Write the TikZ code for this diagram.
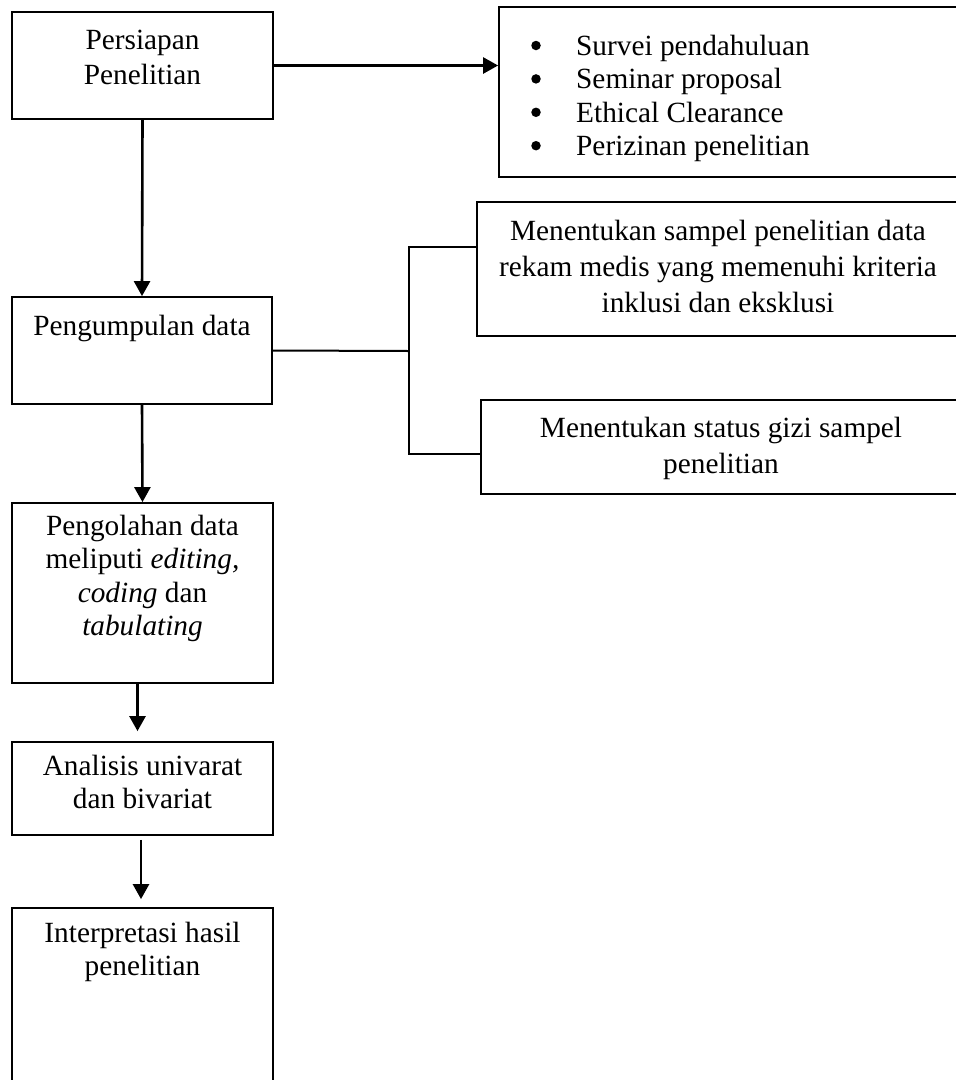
\documentclass[tikz,border=0pt]{standalone}
\usepackage{fontspec}
\setmainfont{Liberation Serif}
\usetikzlibrary{arrows.meta}
\begin{document}
\begin{tikzpicture}[x=1pt,y=-1pt,
  box/.style={draw, line width=1.8pt, rectangle, inner sep=0pt},
  txt/.style={inner sep=0pt, anchor=north, align=center, font=\fontsize{29.3}{34}\selectfont},
  dot/.style={circle, fill, inner sep=0pt, minimum size=9.5pt},
  conn/.style={line width=2pt},
  arr/.style={line width=2.6pt, -{Triangle[length=15pt,width=16pt]}}]
\useasboundingbox (0,0) rectangle (956,1080);
% boxes
\node[box, minimum width=261pt, minimum height=107pt] (b1) at (142.5,65.5) {};
\node[box, minimum width=460pt, minimum height=170pt] (b2) at (729,92) {};
\node[box, minimum width=482pt, minimum height=134pt] (b3) at (718,269) {};
\node[box, minimum width=478pt, minimum height=94pt] (b4) at (720,447) {};
\node[box, minimum width=260pt, minimum height=107pt] (b5) at (142,350.5) {};
\node[box, minimum width=261pt, minimum height=180pt] (b6) at (142.5,593) {};
\node[box, minimum width=261pt, minimum height=93pt] (b7) at (142.5,788.5) {};
\node[box, minimum width=261pt, minimum height=175pt] (b8) at (142.5,995.5) {};
% texts
\node[txt, font=\fontsize{29.3}{35}\selectfont] (t1) at (142.5,30) {Persiapan\\Penelitian};
\node[txt, anchor=north west, align=left, font=\fontsize{29.3}{33.4}\selectfont] (t2) at (576,35)
  {Survei pendahuluan\\Seminar proposal\\Ethical Clearance\\Perizinan penelitian};
\node[dot] (d1) at (536,45.5) {};
\node[dot] (d2) at (536,78.9) {};
\node[dot] (d3) at (536,112.3) {};
\node[dot] (d4) at (536,145.7) {};
\node[txt, font=\fontsize{29.3}{36}\selectfont] (t3) at (718,220) {Menentukan sampel penelitian data\\rekam medis yang memenuhi kriteria\\inklusi dan eksklusi};
\node[txt, font=\fontsize{29.3}{36}\selectfont] (t4) at (721,417) {Menentukan status gizi sampel\\penelitian};
\node[txt] (t5) at (142,315) {Pengumpulan data};
\node[txt, font=\fontsize{29.3}{33.4}\selectfont] (t6) at (142.5,515) {Pengolahan data\\meliputi \textit{editing,}\\\textit{coding} dan\\\textit{tabulating}};
\node[txt, font=\fontsize{29.3}{33.4}\selectfont] (t7) at (142.5,755) {Analisis univarat\\dan bivariat};
\node[txt, font=\fontsize{29.3}{33.4}\selectfont] (t8) at (142.5,922) {Interpretasi hasil\\penelitian};
% connectors
\draw[arr] (b1.east) -- (b2.west |- b1.east);
\draw[arr] (b1.south) -- (b5.north);
\draw[arr] (b5.south) -- (b6.north);
\draw[arr, shorten >=10pt] ([xshift=-5pt]b6.south) -- ([xshift=-5pt]b7.north);
\draw[arr, shorten <=4pt, shorten >=8pt] ([xshift=-1.5pt]b7.south) -- ([xshift=-1.5pt]b8.north);
\coordinate (jn) at (409,351);
\coordinate (j1) at (409,247);
\coordinate (j2) at (409,454);
\draw[conn] (b5.east) -- (jn);
\draw[conn] (b3.west |- j1) -- (j1) -- (j2) -- (b4.west |- j2);
\end{tikzpicture}
\end{document}
